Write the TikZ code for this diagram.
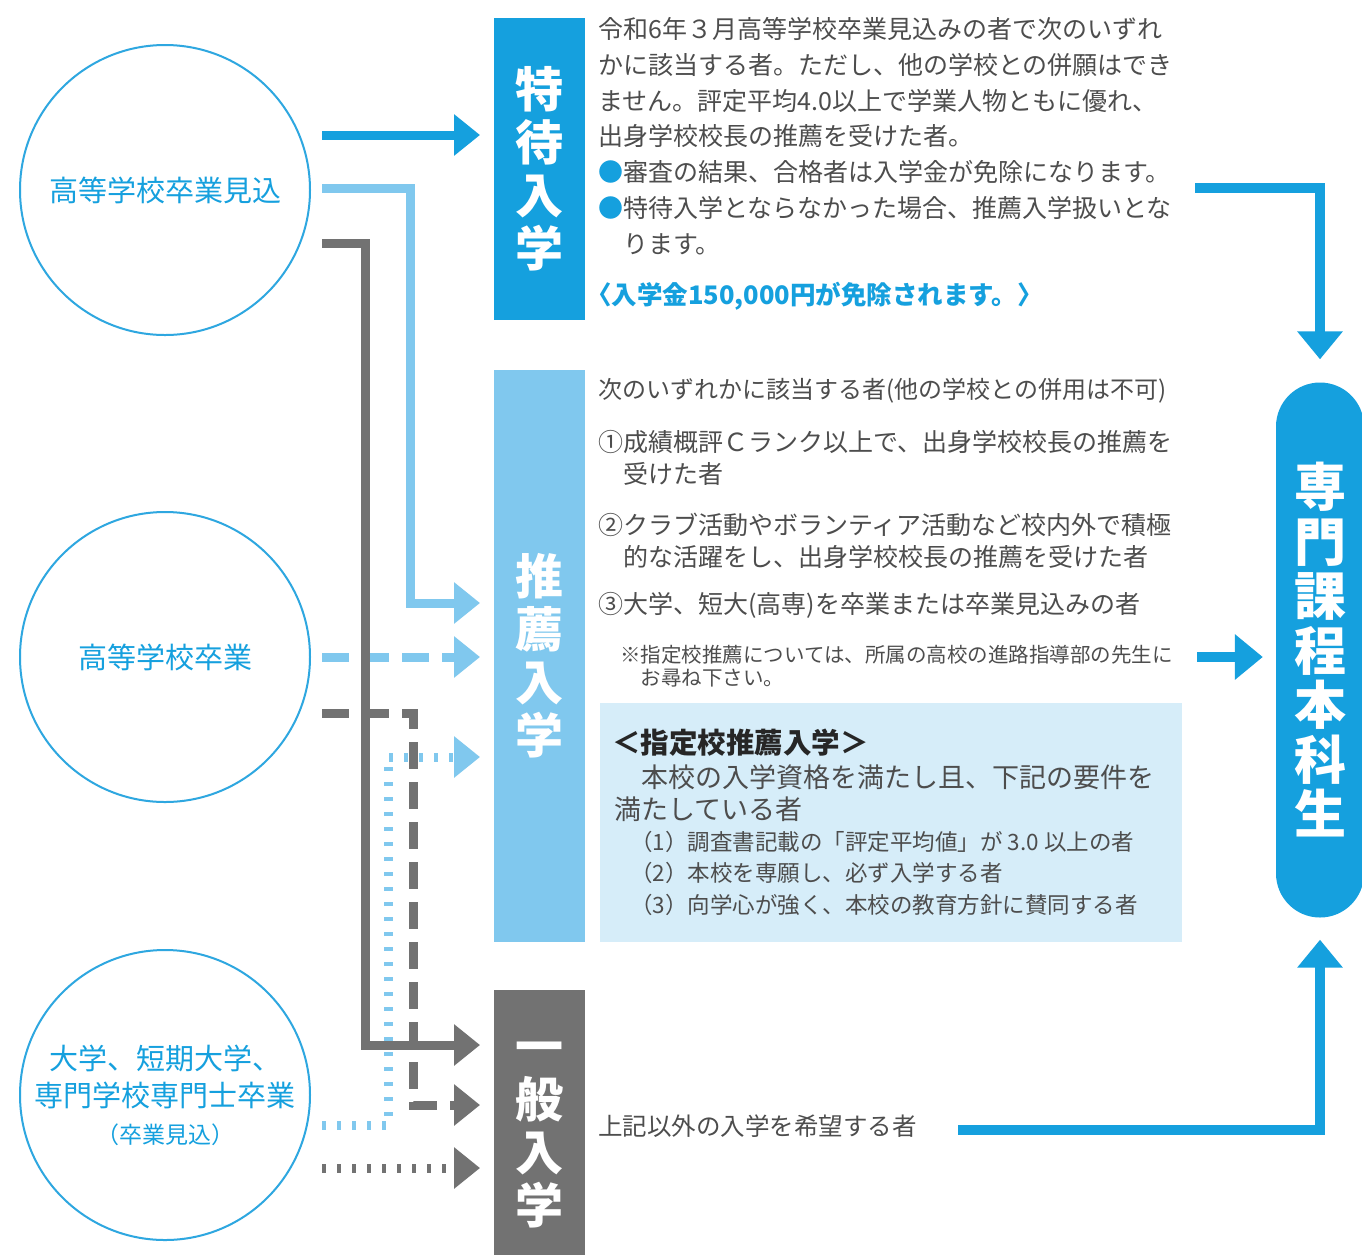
\documentclass[tikz,border=0pt]{standalone}
\usepackage{fontspec}
\setmainfont{Noto Sans CJK JP}
\usepackage{tikz}
\usetikzlibrary{arrows.meta}

\definecolor{tokucyan}{HTML}{15A0DE}
\definecolor{suisenblue}{HTML}{80C8EE}
\definecolor{ippangray}{HTML}{727272}
\definecolor{boxblue}{HTML}{D6EDF9}
\definecolor{bodygray}{HTML}{4D4D4D}
\definecolor{ringblue}{HTML}{2EA7E0}

\begin{document}
\begin{tikzpicture}[x=1pt, y=-1pt,
	src/.style={shape=circle, draw=ringblue, line width=2pt, minimum size=290pt, inner sep=0pt, align=center, text=tokucyan, font=\fontsize{29}{37}\selectfont},
	band/.style={anchor=north west, minimum width=91pt, inner sep=0pt, align=center, text=white, font=\fontsize{48}{53}\selectfont\bfseries},
	body/.style={anchor=north west, inner sep=0pt, align=left, text=bodygray, font=\fontsize{25}{35.7}\selectfont},
	arr/.style={line width=9pt, shorten >=14pt, -{Triangle[length=26pt, width=40pt]}},
	outarr/.style={line width=10pt, -{Triangle[length=28pt, width=44pt]}},
	dashline/.style={dash pattern=on 27pt off 13pt},
	dotline/.style={dash pattern=on 4pt off 11pt}]

	\path[use as bounding box, fill=white] (0,0) rectangle (1362,1254);

	\node[src] (c1) at (165,190)  {高等学校卒業見込};
	\node[src] (c2) at (165,657)  {高等学校卒業};
	\node[src] (c3) at (165,1095) {大学、短期大学、\\専門学校専門士卒業\\{\fontsize{23}{30}\selectfont （卒業見込）}};

	\node[band, fill=tokucyan, minimum height=302pt]   (toku)   at (494,18)  {特\\待\\入\\学};
	\node[band, fill=suisenblue, minimum height=572pt] (suisen) at (494,370) {推\\薦\\入\\学};
	\node[band, fill=ippangray, minimum height=290pt]  (ippan)  at (494,990) {一\\般\\入\\学};

	\node[fill=tokucyan, rounded corners=44pt, minimum width=88pt, minimum height=535pt, inner sep=0pt, align=center, text=white, font=\fontsize{52}{54.5}\selectfont\bfseries] (honka) at (1320,650) {専\\門\\課\\程\\本\\科\\生};

	\node[body] (toku-txt) at (598,17.5) {令和6年３月高等学校卒業見込みの者で次のいずれ\\かに該当する者。ただし、他の学校との併願はでき\\ません。評定平均4.0以上で学業人物ともに優れ、\\出身学校校長の推薦を受けた者。\\{\color{tokucyan}●}審査の結果、合格者は入学金が免除になります。\\{\color{tokucyan}●}特待入学とならなかった場合、推薦入学扱いとな\\\hspace*{1em}ります。};
	\node[body, text=tokucyan, font=\fontsize{25.5}{30}\selectfont\bfseries] (menjo) at (586,282) {〈入学金150,000円が免除されます。〉};

	\node[body, font=\fontsize{24}{32}\selectfont] (suisen-txt) at (598,378) {次のいずれかに該当する者(他の学校との併用は不可)};
	\node[body, font=\fontsize{25}{32}\selectfont] (jyoken1) at (598,430.5) {①成績概評Ｃランク以上で、出身学校校長の推薦を\\\hspace*{1em}受けた者};
	\node[body, font=\fontsize{25}{32}\selectfont] (jyoken2) at (598,512.5) {②クラブ活動やボランティア活動など校内外で積極\\\hspace*{1em}的な活躍をし、出身学校校長の推薦を受けた者};
	\node[body, font=\fontsize{25}{32}\selectfont] (jyoken3) at (598,592.5) {③大学、短大(高専)を卒業または卒業見込みの者};
	\node[body, font=\fontsize{20.5}{23}\selectfont] (chui) at (620,645) {※指定校推薦については、所属の高校の進路指導部の先生に\\\hspace*{1em}お尋ね下さい。};

	\node[anchor=north west, fill=boxblue, minimum width=582pt, minimum height=239pt, inner sep=0pt] (shitei) at (600,703) {};
	\node[body, text=black!85, font=\fontsize{28.5}{32}\selectfont\bfseries] (shitei-ttl) at (612,729) {＜指定校推薦入学＞};
	\node[body, font=\fontsize{27}{32}\selectfont] (shitei-txt) at (614,764.5) {　本校の入学資格を満たし且、下記の要件を\\満たしている者};
	\node[body, font=\fontsize{22.5}{31.5}\selectfont] (shitei-list) at (630,831) {（1）調査書記載の「評定平均値」が 3.0 以上の者\\（2）本校を専願し、必ず入学する者\\（3）向学心が強く、本校の教育方針に賛同する者};

	\node[body, font=\fontsize{24.5}{30}\selectfont] (ippan-txt) at (598,1115) {上記以外の入学を希望する者};

	\coordinate (s1) at (322,135);
	\coordinate (s2) at (322,188);
	\coordinate (s3) at (322,243);
	\coordinate (s4) at (322,657);
	\coordinate (s5) at (322,713);
	\coordinate (s6) at (322,1125);
	\coordinate (s7) at (322,1168);
	\coordinate (k2) at (410,603);
	\coordinate (k3) at (365,1045);
	\coordinate (k5) at (413,1105);
	\coordinate (k6) at (388,757);

	\draw[arr, tokucyan] (s1) -- (toku.west |- s1);
	\draw[arr, suisenblue] (s2) -| (k2) -- (suisen.west |- k2);
	\draw[arr, suisenblue, dashline] (s4) -- (suisen.west |- s4);
	\draw[arr, suisenblue, dotline] (s6) -| (k6) -- (suisen.west |- k6);
	\draw[arr, ippangray] (s3) -| (k3) -- (ippan.west |- k3);
	\draw[arr, ippangray, dashline] (s5) -| (k5) -- (ippan.west |- k5);
	\draw[arr, ippangray, dotline] (s7) -- (ippan.west |- s7);

	\coordinate (o1) at (1195,188);
	\coordinate (o2) at (1197,657);
	\coordinate (o3) at (958,1130);

	\draw[outarr, tokucyan, shorten >=23pt] (o1) -| (honka.north);
	\draw[outarr, tokucyan, shorten >=13pt] (o2) -- (honka.west |- o2);
	\draw[outarr, tokucyan, shorten >=22pt] (o3) -| (honka.south);
\end{tikzpicture}
\end{document}
